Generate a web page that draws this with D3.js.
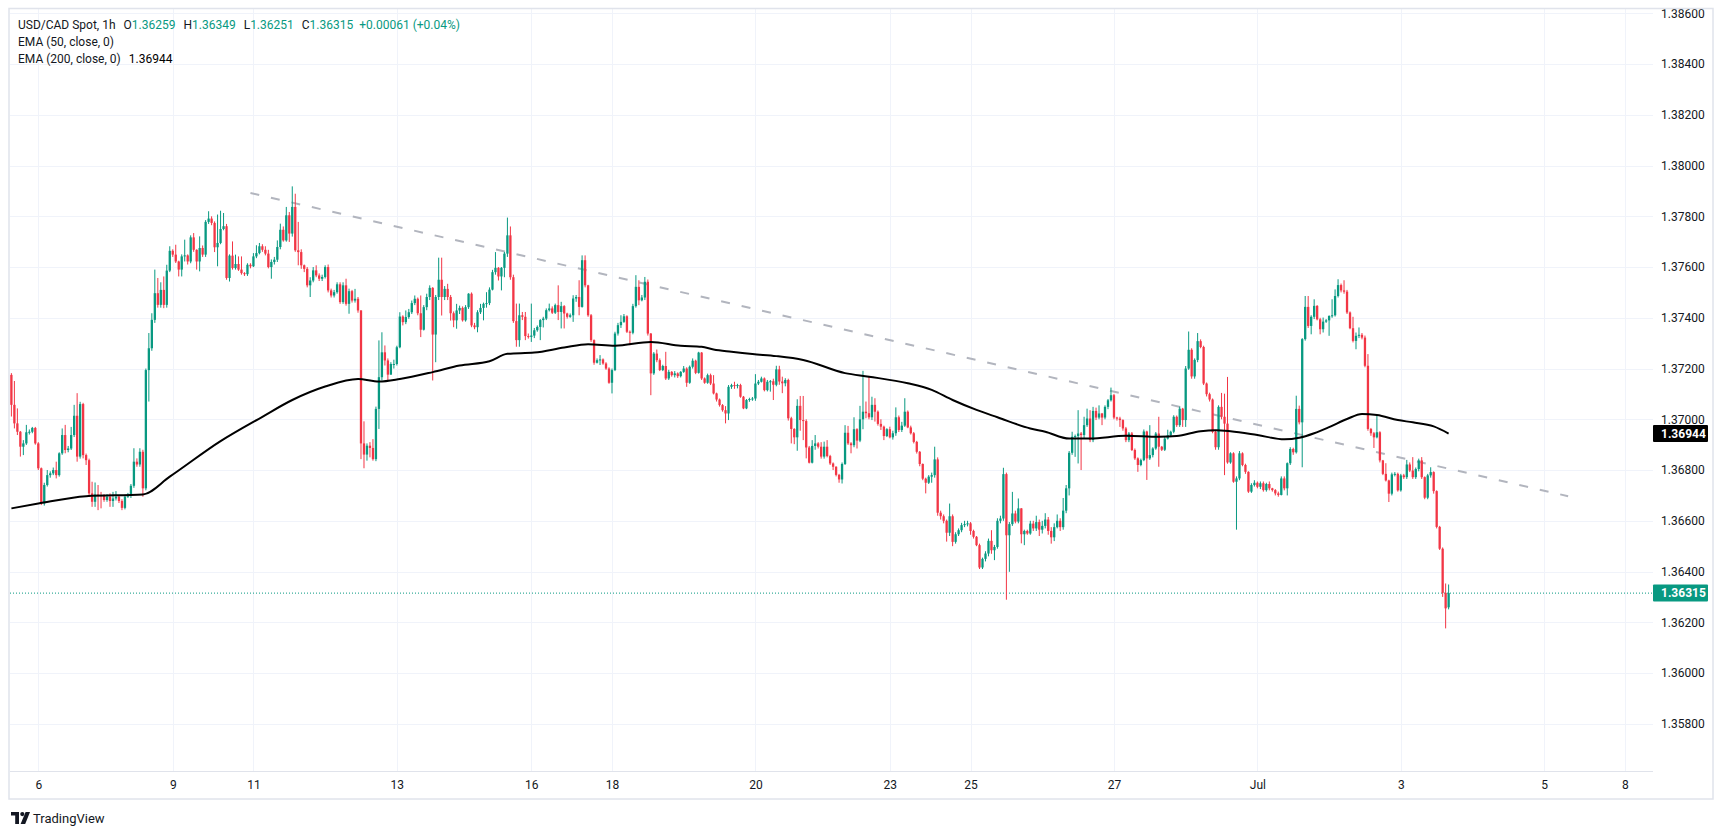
<!DOCTYPE html>
<html><head><meta charset="utf-8">
<script src="https://cdn.jsdelivr.net/npm/d3@7"></script>
<style>
html,body{margin:0;padding:0;background:#fff;}
svg{display:block;font-family:Roboto,"Noto Sans",sans-serif;}
</style></head><body>
<svg id="chart" width="1723" height="835"></svg>
<script>
// ---------- DATA (USD/CAD Spot, 1h) ----------
const barOpen = [
1.37175,1.37057,1.36984,1.36951,1.36892,1.36905,1.36949,1.36951,1.36966,1.36905,
1.36807,1.36668,1.36741,1.36780,1.36787,1.36800,1.36780,1.36866,1.36938,1.36879,
1.36885,1.36938,1.37014,1.36853,1.37060,1.36859,1.36839,1.36708,1.36675,1.36704,
1.36701,1.36699,1.36682,1.36695,1.36678,1.36688,1.36695,1.36678,1.36651,1.36695,
1.36699,1.36738,1.36833,1.36822,1.36872,1.36728,1.37194,1.37280,1.37392,1.37497,
1.37451,1.37510,1.37451,1.37586,1.37664,1.37649,1.37622,1.37590,1.37642,1.37646,
1.37622,1.37717,1.37668,1.37622,1.37675,1.37649,1.37778,1.37791,1.37774,1.37678,
1.37695,1.37750,1.37761,1.37557,1.37645,1.37596,1.37612,1.37590,1.37576,1.37572,
1.37609,1.37603,1.37642,1.37655,1.37682,1.37668,1.37653,1.37600,1.37620,1.37629,
1.37679,1.37747,1.37705,1.37804,1.37732,1.37837,1.37666,1.37659,1.37607,1.37593,
1.37528,1.37547,1.37587,1.37567,1.37554,1.37561,1.37600,1.37508,1.37488,1.37501,
1.37532,1.37462,1.37528,1.37455,1.37505,1.37468,1.37475,1.37429,1.36905,1.36861,
1.36896,1.36887,1.36843,1.37041,1.37166,1.37264,1.37232,1.37176,1.37218,1.37218,
1.37284,1.37405,1.37383,1.37403,1.37422,1.37458,1.37475,1.37418,1.37353,1.37442,
1.37482,1.37518,1.37334,1.37482,1.37550,1.37482,1.37514,1.37482,1.37418,1.37390,
1.37429,1.37439,1.37390,1.37442,1.37495,1.37370,1.37363,1.37422,1.37439,1.37455,
1.37458,1.37511,1.37580,1.37597,1.37563,1.37597,1.37653,1.37725,1.37560,1.37387,
1.37312,1.37410,1.37404,1.37328,1.37325,1.37330,1.37351,1.37364,1.37391,1.37397,
1.37430,1.37437,1.37420,1.37450,1.37423,1.37446,1.37417,1.37404,1.37410,1.37476,
1.37482,1.37443,1.37627,1.37528,1.37410,1.37312,1.37223,1.37233,1.37236,1.37220,
1.37200,1.37144,1.37194,1.37338,1.37371,1.37384,1.37406,1.37345,1.37341,1.37446,
1.37522,1.37469,1.37480,1.37542,1.37338,1.37181,1.37259,1.37233,1.37194,1.37210,
1.37161,1.37187,1.37174,1.37181,1.37170,1.37187,1.37200,1.37144,1.37207,1.37231,
1.37183,1.37263,1.37161,1.37144,1.37174,1.37141,1.37102,1.37078,1.37056,1.37036,
1.37023,1.37128,1.37135,1.37131,1.37135,1.37089,1.37043,1.37076,1.37080,1.37082,
1.37141,1.37148,1.37161,1.37115,1.37148,1.37150,1.37136,1.37197,1.37149,1.37142,
1.37155,1.37004,1.36962,1.36929,1.37053,1.36997,1.36993,1.36889,1.36829,1.36895,
1.36905,1.36892,1.36853,1.36892,1.36855,1.36826,1.36813,1.36781,1.36763,1.36824,
1.36947,1.36905,1.36898,1.36961,1.36916,1.37000,1.37030,1.37024,1.37008,1.37057,
1.37030,1.36982,1.36971,1.36934,1.36961,1.36929,1.36945,1.37008,1.36958,1.36975,
1.37030,1.36968,1.36945,1.36911,1.36872,1.36824,1.36766,1.36750,1.36774,1.36780,
1.36842,1.36632,1.36618,1.36600,1.36553,1.36618,1.36517,1.36547,1.36563,1.36583,
1.36587,1.36590,1.36560,1.36537,1.36504,1.36416,1.36450,1.36471,1.36521,1.36484,
1.36497,1.36600,1.36609,1.36784,1.36543,1.36587,1.36629,1.36597,1.36649,1.36547,
1.36560,1.36550,1.36589,1.36570,1.36595,1.36565,1.36580,1.36605,1.36560,1.36535,
1.36575,1.36600,1.36575,1.36640,1.36728,1.36868,1.36931,1.36934,1.36944,1.36938,
1.36977,1.37003,1.36918,1.37033,1.37007,1.37023,1.37007,1.37049,1.37075,1.37095,
1.37007,1.37003,1.36997,1.36964,1.36918,1.36944,1.36879,1.36846,1.36820,1.36839,
1.36952,1.36846,1.36859,1.36885,1.36944,1.36892,1.36880,1.36924,1.36937,1.36951,
1.37010,1.36977,1.37042,1.36997,1.37200,1.37274,1.37169,1.37234,1.37308,1.37285,
1.37141,1.37099,1.37078,1.36951,1.36890,1.37049,1.37010,1.36983,1.36830,1.36866,
1.36754,1.36767,1.36866,1.36820,1.36793,1.36715,1.36741,1.36750,1.36734,1.36748,
1.36721,1.36745,1.36728,1.36721,1.36708,1.36702,1.36767,1.36728,1.36827,1.36883,
1.36870,1.37041,1.36988,1.37316,1.37443,1.37368,1.37404,1.37447,1.37394,1.37355,
1.37385,1.37390,1.37407,1.37410,1.37486,1.37529,1.37508,1.37503,1.37421,1.37359,
1.37309,1.37329,1.37333,1.37322,1.37211,1.36962,1.36945,1.36929,1.36949,1.36838,
1.36785,1.36759,1.36707,1.36783,1.36785,1.36720,1.36779,1.36772,1.36822,1.36798,
1.36772,1.36804,1.36838,1.36772,1.36691,1.36779,1.36792,1.36717,1.36576,1.36490,
1.36316,1.36259];
const barHigh = [
1.37182,1.37151,1.37043,1.36954,1.36918,1.36978,1.36960,1.36970,1.36970,1.36910,
1.36810,1.36750,1.36800,1.36795,1.36810,1.36833,1.36870,1.36964,1.36978,1.36895,
1.36970,1.37057,1.37103,1.37069,1.37065,1.36865,1.36845,1.36754,1.36751,1.36741,
1.36714,1.36705,1.36705,1.36708,1.36714,1.36717,1.36700,1.36685,1.36700,1.36710,
1.36745,1.36886,1.36846,1.36886,1.36880,1.37200,1.37340,1.37418,1.37590,1.37557,
1.37540,1.37563,1.37609,1.37682,1.37670,1.37688,1.37625,1.37650,1.37708,1.37650,
1.37725,1.37734,1.37670,1.37721,1.37685,1.37785,1.37820,1.37800,1.37780,1.37807,
1.37822,1.37813,1.37770,1.37650,1.37701,1.37649,1.37642,1.37642,1.37580,1.37615,
1.37615,1.37655,1.37686,1.37695,1.37690,1.37682,1.37668,1.37630,1.37640,1.37705,
1.37771,1.37760,1.37837,1.37817,1.37918,1.37889,1.37778,1.37670,1.37610,1.37600,
1.37560,1.37600,1.37607,1.37575,1.37570,1.37607,1.37610,1.37515,1.37510,1.37540,
1.37540,1.37540,1.37554,1.37515,1.37510,1.37514,1.37482,1.37430,1.36992,1.36905,
1.36910,1.36922,1.37050,1.37311,1.37343,1.37291,1.37240,1.37225,1.37235,1.37290,
1.37422,1.37410,1.37429,1.37435,1.37468,1.37488,1.37480,1.37488,1.37450,1.37495,
1.37528,1.37521,1.37490,1.37637,1.37637,1.37525,1.37534,1.37490,1.37425,1.37455,
1.37448,1.37445,1.37450,1.37497,1.37500,1.37380,1.37430,1.37455,1.37460,1.37501,
1.37520,1.37589,1.37659,1.37600,1.37600,1.37660,1.37795,1.37760,1.37570,1.37456,
1.37456,1.37423,1.37423,1.37338,1.37456,1.37360,1.37370,1.37395,1.37404,1.37437,
1.37456,1.37445,1.37456,1.37528,1.37463,1.37450,1.37420,1.37417,1.37489,1.37490,
1.37548,1.37646,1.37646,1.37530,1.37415,1.37315,1.37240,1.37253,1.37240,1.37225,
1.37205,1.37200,1.37345,1.37380,1.37410,1.37415,1.37410,1.37350,1.37455,1.37568,
1.37548,1.37490,1.37561,1.37551,1.37340,1.37265,1.37275,1.37240,1.37215,1.37266,
1.37195,1.37190,1.37190,1.37185,1.37190,1.37210,1.37205,1.37212,1.37240,1.37235,
1.37266,1.37265,1.37165,1.37180,1.37180,1.37174,1.37105,1.37082,1.37060,1.37052,
1.37135,1.37140,1.37148,1.37140,1.37140,1.37092,1.37080,1.37085,1.37088,1.37178,
1.37155,1.37168,1.37165,1.37155,1.37155,1.37160,1.37211,1.37211,1.37168,1.37162,
1.37160,1.37010,1.36965,1.37079,1.37092,1.37092,1.37000,1.36895,1.36918,1.36938,
1.36910,1.36910,1.36912,1.36918,1.36860,1.36830,1.36815,1.36785,1.36830,1.36977,
1.36974,1.36910,1.37008,1.36965,1.37053,1.37191,1.37070,1.37171,1.37089,1.37083,
1.37035,1.37000,1.36975,1.36965,1.36971,1.36955,1.37047,1.37015,1.36990,1.37083,
1.37035,1.36975,1.36950,1.36915,1.36875,1.36826,1.36770,1.36780,1.36790,1.36892,
1.36850,1.36640,1.36625,1.36605,1.36668,1.36625,1.36555,1.36570,1.36592,1.36600,
1.36600,1.36595,1.36565,1.36540,1.36510,1.36455,1.36480,1.36530,1.36563,1.36505,
1.36610,1.36620,1.36809,1.36790,1.36595,1.36714,1.36640,1.36688,1.36650,1.36565,
1.36565,1.36600,1.36600,1.36620,1.36605,1.36600,1.36630,1.36615,1.36575,1.36590,
1.36625,1.36610,1.36690,1.36741,1.36875,1.36951,1.36940,1.37036,1.36950,1.37010,
1.37042,1.37036,1.37049,1.37046,1.37055,1.37025,1.37055,1.37080,1.37125,1.37100,
1.37010,1.37010,1.37000,1.36970,1.36950,1.36950,1.36885,1.36850,1.36845,1.36960,
1.36955,1.36977,1.36890,1.36950,1.37010,1.36895,1.36930,1.36959,1.36955,1.37016,
1.37015,1.37050,1.37045,1.37210,1.37346,1.37280,1.37240,1.37340,1.37315,1.37290,
1.37145,1.37105,1.37082,1.36955,1.37055,1.37104,1.37101,1.37167,1.36870,1.36870,
1.36775,1.36875,1.36870,1.36825,1.36795,1.36748,1.36760,1.36755,1.36755,1.36755,
1.36750,1.36755,1.36730,1.36725,1.36715,1.36775,1.36775,1.36830,1.36890,1.36888,
1.37093,1.37054,1.37320,1.37486,1.37486,1.37410,1.37473,1.37450,1.37400,1.37401,
1.37395,1.37410,1.37473,1.37512,1.37552,1.37535,1.37548,1.37510,1.37425,1.37404,
1.37342,1.37362,1.37340,1.37330,1.37257,1.36966,1.36950,1.37014,1.36953,1.36840,
1.36827,1.36762,1.36790,1.36792,1.36790,1.36785,1.36785,1.36840,1.36830,1.36851,
1.36810,1.36845,1.36851,1.36775,1.36785,1.36811,1.36795,1.36720,1.36580,1.36495,
1.36353,1.36349];
const barLow = [
1.37011,1.36964,1.36938,1.36853,1.36859,1.36899,1.36940,1.36945,1.36900,1.36800,
1.36662,1.36660,1.36735,1.36770,1.36780,1.36767,1.36774,1.36860,1.36866,1.36870,
1.36879,1.36930,1.36833,1.36845,1.36846,1.36820,1.36695,1.36655,1.36655,1.36642,
1.36649,1.36675,1.36675,1.36655,1.36655,1.36680,1.36670,1.36642,1.36645,1.36690,
1.36690,1.36730,1.36813,1.36813,1.36695,1.36720,1.37070,1.37270,1.37380,1.37440,
1.37440,1.37438,1.37440,1.37580,1.37640,1.37616,1.37563,1.37563,1.37622,1.37610,
1.37615,1.37660,1.37590,1.37583,1.37640,1.37640,1.37770,1.37765,1.37659,1.37603,
1.37690,1.37745,1.37550,1.37543,1.37590,1.37590,1.37585,1.37570,1.37565,1.37565,
1.37595,1.37600,1.37635,1.37650,1.37660,1.37646,1.37595,1.37554,1.37610,1.37620,
1.37670,1.37700,1.37700,1.37699,1.37720,1.37660,1.37607,1.37593,1.37580,1.37520,
1.37482,1.37540,1.37560,1.37545,1.37545,1.37555,1.37500,1.37480,1.37480,1.37495,
1.37455,1.37455,1.37448,1.37416,1.37460,1.37460,1.37420,1.36843,1.36807,1.36837,
1.36850,1.36837,1.36835,1.36962,1.37153,1.37212,1.37153,1.37176,1.37200,1.37212,
1.37280,1.37370,1.37375,1.37396,1.37415,1.37450,1.37410,1.37324,1.37350,1.37430,
1.37470,1.37153,1.37225,1.37470,1.37409,1.37470,1.37470,1.37389,1.37363,1.37357,
1.37415,1.37385,1.37385,1.37435,1.37363,1.37355,1.37343,1.37415,1.37390,1.37440,
1.37450,1.37508,1.37570,1.37547,1.37508,1.37560,1.37640,1.37550,1.37380,1.37286,
1.37286,1.37391,1.37312,1.37318,1.37305,1.37320,1.37345,1.37312,1.37362,1.37391,
1.37425,1.37415,1.37415,1.37391,1.37358,1.37358,1.37397,1.37400,1.37384,1.37463,
1.37410,1.37440,1.37520,1.37404,1.37305,1.37215,1.37220,1.37214,1.37215,1.37195,
1.37140,1.37102,1.37190,1.37330,1.37360,1.37380,1.37340,1.37292,1.37335,1.37440,
1.37450,1.37465,1.37470,1.37330,1.37095,1.37175,1.37225,1.37190,1.37190,1.37155,
1.37155,1.37168,1.37165,1.37163,1.37165,1.37183,1.37128,1.37140,1.37200,1.37178,
1.37180,1.37155,1.37140,1.37140,1.37135,1.37098,1.37070,1.37050,1.37030,1.36984,
1.36997,1.37120,1.37120,1.37122,1.37085,1.37040,1.37040,1.37069,1.37073,1.37073,
1.37135,1.37145,1.37110,1.37110,1.37109,1.37076,1.37130,1.37136,1.37103,1.37130,
1.36995,1.36905,1.36902,1.36876,1.36955,1.36918,1.36846,1.36826,1.36826,1.36880,
1.36885,1.36845,1.36845,1.36850,1.36820,1.36800,1.36775,1.36750,1.36747,1.36820,
1.36899,1.36866,1.36890,1.36885,1.36910,1.36961,1.37004,1.37000,1.36997,1.36991,
1.36975,1.36958,1.36918,1.36930,1.36925,1.36920,1.36935,1.36950,1.36950,1.36970,
1.36965,1.36940,1.36905,1.36865,1.36815,1.36760,1.36708,1.36745,1.36750,1.36770,
1.36620,1.36605,1.36590,1.36518,1.36540,1.36500,1.36510,1.36540,1.36555,1.36575,
1.36578,1.36545,1.36530,1.36500,1.36410,1.36410,1.36440,1.36460,1.36470,1.36445,
1.36490,1.36590,1.36600,1.36289,1.36399,1.36580,1.36590,1.36590,1.36511,1.36504,
1.36545,1.36545,1.36560,1.36560,1.36540,1.36550,1.36570,1.36545,1.36510,1.36520,
1.36570,1.36560,1.36565,1.36630,1.36700,1.36860,1.36852,1.36826,1.36800,1.36924,
1.36970,1.36910,1.36910,1.36997,1.37000,1.36977,1.37000,1.37040,1.37070,1.37000,
1.36995,1.36970,1.36955,1.36910,1.36910,1.36875,1.36840,1.36793,1.36815,1.36835,
1.36761,1.36840,1.36850,1.36880,1.36813,1.36875,1.36875,1.36920,1.36930,1.36945,
1.36970,1.36970,1.36970,1.36970,1.37195,1.37160,1.37160,1.37225,1.37280,1.37135,
1.37090,1.37070,1.36945,1.36880,1.36880,1.37000,1.36780,1.36825,1.36825,1.36750,
1.36565,1.36760,1.36815,1.36785,1.36710,1.36710,1.36735,1.36728,1.36725,1.36715,
1.36715,1.36720,1.36715,1.36700,1.36695,1.36700,1.36720,1.36700,1.36820,1.36860,
1.36865,1.36980,1.36811,1.37310,1.37360,1.37335,1.37395,1.37390,1.37335,1.37342,
1.37380,1.37329,1.37400,1.37405,1.37480,1.37500,1.37495,1.37415,1.37355,1.37303,
1.37276,1.37320,1.37315,1.37205,1.36955,1.36935,1.36887,1.36925,1.36830,1.36780,
1.36755,1.36674,1.36700,1.36775,1.36715,1.36715,1.36765,1.36765,1.36792,1.36765,
1.36765,1.36795,1.36765,1.36685,1.36685,1.36770,1.36707,1.36570,1.36485,1.36300,
1.36176,1.36251];
const barClose = [
1.37057,1.36984,1.36951,1.36892,1.36905,1.36949,1.36951,1.36966,1.36905,1.36807,
1.36668,1.36741,1.36780,1.36787,1.36800,1.36780,1.36866,1.36938,1.36879,1.36885,
1.36938,1.37014,1.36853,1.37060,1.36859,1.36839,1.36708,1.36675,1.36704,1.36701,
1.36699,1.36682,1.36695,1.36678,1.36688,1.36695,1.36678,1.36651,1.36695,1.36699,
1.36738,1.36833,1.36822,1.36872,1.36728,1.37194,1.37280,1.37392,1.37497,1.37451,
1.37510,1.37451,1.37586,1.37664,1.37649,1.37622,1.37590,1.37642,1.37646,1.37622,
1.37717,1.37668,1.37622,1.37675,1.37649,1.37778,1.37791,1.37774,1.37678,1.37695,
1.37750,1.37761,1.37557,1.37645,1.37596,1.37612,1.37590,1.37576,1.37572,1.37609,
1.37603,1.37642,1.37655,1.37682,1.37668,1.37653,1.37600,1.37620,1.37629,1.37679,
1.37747,1.37705,1.37804,1.37732,1.37837,1.37666,1.37659,1.37607,1.37593,1.37528,
1.37547,1.37587,1.37567,1.37554,1.37561,1.37600,1.37508,1.37488,1.37501,1.37532,
1.37462,1.37528,1.37455,1.37505,1.37468,1.37475,1.37429,1.36905,1.36861,1.36896,
1.36887,1.36843,1.37041,1.37166,1.37264,1.37232,1.37176,1.37218,1.37218,1.37284,
1.37405,1.37383,1.37403,1.37422,1.37458,1.37475,1.37418,1.37353,1.37442,1.37482,
1.37518,1.37334,1.37482,1.37550,1.37482,1.37514,1.37482,1.37418,1.37390,1.37429,
1.37439,1.37390,1.37442,1.37495,1.37370,1.37363,1.37422,1.37439,1.37455,1.37458,
1.37511,1.37580,1.37597,1.37563,1.37597,1.37653,1.37725,1.37560,1.37387,1.37312,
1.37410,1.37404,1.37328,1.37325,1.37330,1.37351,1.37364,1.37391,1.37397,1.37430,
1.37437,1.37420,1.37450,1.37423,1.37446,1.37417,1.37404,1.37410,1.37476,1.37482,
1.37443,1.37627,1.37528,1.37410,1.37312,1.37223,1.37233,1.37236,1.37220,1.37200,
1.37144,1.37194,1.37338,1.37371,1.37384,1.37406,1.37345,1.37341,1.37446,1.37522,
1.37469,1.37480,1.37542,1.37338,1.37181,1.37259,1.37233,1.37194,1.37210,1.37161,
1.37187,1.37174,1.37181,1.37170,1.37187,1.37200,1.37144,1.37207,1.37231,1.37183,
1.37263,1.37161,1.37144,1.37174,1.37141,1.37102,1.37078,1.37056,1.37036,1.37023,
1.37128,1.37135,1.37131,1.37135,1.37089,1.37043,1.37076,1.37080,1.37082,1.37141,
1.37148,1.37161,1.37115,1.37148,1.37150,1.37136,1.37197,1.37149,1.37142,1.37155,
1.37004,1.36962,1.36929,1.37053,1.36997,1.36993,1.36889,1.36829,1.36895,1.36905,
1.36892,1.36853,1.36892,1.36855,1.36826,1.36813,1.36781,1.36763,1.36824,1.36947,
1.36905,1.36898,1.36961,1.36916,1.37000,1.37030,1.37024,1.37008,1.37057,1.37030,
1.36982,1.36971,1.36934,1.36961,1.36929,1.36945,1.37008,1.36958,1.36975,1.37030,
1.36968,1.36945,1.36911,1.36872,1.36824,1.36766,1.36750,1.36774,1.36780,1.36842,
1.36632,1.36618,1.36600,1.36553,1.36618,1.36517,1.36547,1.36563,1.36583,1.36587,
1.36590,1.36560,1.36537,1.36504,1.36416,1.36450,1.36471,1.36521,1.36484,1.36497,
1.36600,1.36609,1.36784,1.36543,1.36587,1.36629,1.36597,1.36649,1.36547,1.36560,
1.36550,1.36589,1.36570,1.36595,1.36565,1.36580,1.36605,1.36560,1.36535,1.36575,
1.36600,1.36575,1.36640,1.36728,1.36868,1.36931,1.36934,1.36944,1.36938,1.36977,
1.37003,1.36918,1.37033,1.37007,1.37023,1.37007,1.37049,1.37075,1.37095,1.37007,
1.37003,1.36997,1.36964,1.36918,1.36944,1.36879,1.36846,1.36820,1.36839,1.36952,
1.36846,1.36859,1.36885,1.36944,1.36892,1.36880,1.36924,1.36937,1.36951,1.37010,
1.36977,1.37042,1.36997,1.37200,1.37274,1.37169,1.37234,1.37308,1.37285,1.37141,
1.37099,1.37078,1.36951,1.36890,1.37049,1.37010,1.36983,1.36830,1.36866,1.36754,
1.36767,1.36866,1.36820,1.36793,1.36715,1.36741,1.36750,1.36734,1.36748,1.36721,
1.36745,1.36728,1.36721,1.36708,1.36702,1.36767,1.36728,1.36827,1.36883,1.36870,
1.37041,1.36988,1.37316,1.37443,1.37368,1.37404,1.37447,1.37394,1.37355,1.37385,
1.37390,1.37407,1.37410,1.37486,1.37529,1.37508,1.37503,1.37421,1.37359,1.37309,
1.37329,1.37333,1.37322,1.37211,1.36962,1.36945,1.36929,1.36949,1.36838,1.36785,
1.36759,1.36707,1.36783,1.36785,1.36720,1.36779,1.36772,1.36822,1.36798,1.36772,
1.36804,1.36838,1.36772,1.36691,1.36779,1.36792,1.36717,1.36576,1.36490,1.36316,
1.36255,1.36315];

// EMA 200 at sample bars
const emaIndex = [0,9,25,44,53,70,84,94,105,116,123,130,141,150,160,166,175,185,193,202,
214,224,231,235,241,248,256,265,279,287,300,308,315,323,330,341,346,354,361,373,
384,390,398,403,408,417,426,431,436,441,447,452,457,464,469,476,481];
const emaValue = [1.36649,1.36668,1.36697,1.36704,1.36774,1.36914,1.37010,1.37076,1.37129,1.37159,
1.37149,1.37159,1.37186,1.37212,1.37229,1.37258,1.37263,1.37283,1.37296,1.37290,
1.37305,1.37290,1.37286,1.37275,1.37266,1.37257,1.37249,1.37234,1.37182,1.37168,
1.37142,1.37116,1.37076,1.37037,1.37008,1.36964,1.36951,1.36924,1.36924,1.36935,
1.36931,1.36934,1.36953,1.36957,1.36953,1.36938,1.36921,1.36927,1.36945,1.36969,
1.37001,1.37021,1.37017,1.36997,1.36988,1.36972,1.36944];

// Descending trendline (bar index, price)
const trendIndex = [80, 521];
const trendValue = [1.37892, 1.36697];

// Axis ticks
const timeTickIndex = [9,54,81,129,174,201,249,294,321,369,417,465,513,540];
const timeTickLabels = ["6","9","11","13","16","18","20","23","25","27","Jul","3","5","8"];
const priceTicks = [1.358,1.360,1.362,1.364,1.366,1.368,1.370,1.372,1.374,1.376,1.378,1.380,1.382,1.384,1.386];

// Legend values
const symbolTitle = "USD/CAD Spot, 1h";
const ohlcLabels = ["O","H","L","C"];
const ohlcValues = ["1.36259","1.36349","1.36251","1.36315"];
const changeText = "+0.00061 (+0.04%)";
const indicatorNames = ["EMA (50, close, 0)","EMA (200, close, 0)"];
const lastPrice = 1.36315;
const emaLast = 1.36944;

// ---------- DRAW ----------
const UP = "#089981", DOWN = "#f23645", TXT = "#131722";
const svg = d3.select("#chart");
const plot = {left:10, right:1653, top:9, bottom:771};

const x = d3.scaleLinear().domain([-0.47, 549.4]).range([plot.left, plot.right]);
const y = d3.scaleLinear().domain([1.35614, 1.38617]).range([plot.bottom, plot.top]);

svg.append("rect").attr("x",0).attr("y",0).attr("width",1723).attr("height",835).attr("fill","#fff");

const defs = svg.append("defs");
defs.append("clipPath").attr("id","plotClip").append("rect")
  .attr("x",plot.left).attr("y",plot.top).attr("width",plot.right-plot.left).attr("height",plot.bottom-plot.top);
defs.append("clipPath").attr("id","axisClip").append("rect")
  .attr("x",plot.right).attr("y",plot.top).attr("width",60).attr("height",plot.bottom-plot.top);

// grid
const grid = svg.append("g").attr("clip-path","url(#plotClip)");
grid.selectAll(".hg").data(priceTicks).join("line")
  .attr("x1",plot.left).attr("x2",plot.right)
  .attr("y1",d=>Math.round(y(d))+0.5).attr("y2",d=>Math.round(y(d))+0.5)
  .attr("stroke","#f0f3fa").attr("stroke-width",1);
grid.selectAll(".vg").data(timeTickIndex).join("line")
  .attr("x1",d=>Math.round(x(d))+0.5).attr("x2",d=>Math.round(x(d))+0.5)
  .attr("y1",plot.top).attr("y2",plot.bottom)
  .attr("stroke","#f0f3fa").attr("stroke-width",1);

const chartG = svg.append("g").attr("clip-path","url(#plotClip)");

// last price dotted line
chartG.append("line")
  .attr("x1",plot.left).attr("x2",plot.right)
  .attr("y1",y(lastPrice)).attr("y2",y(lastPrice))
  .attr("stroke",UP).attr("stroke-width",1).attr("stroke-dasharray","1,2");

// trendline
chartG.append("path")
  .datum(d3.range(trendIndex.length))
  .attr("d", d3.line().x(i=>x(trendIndex[i])).y(i=>y(trendValue[i])))
  .attr("fill","none").attr("stroke","#b2b5be").attr("stroke-width",2)
  .attr("stroke-dasharray","9,12");

// candles
const idx = d3.range(barClose.length);
const candles = chartG.append("g");
candles.selectAll(".wick").data(idx).join("line")
  .attr("x1",i=>x(i)).attr("x2",i=>x(i))
  .attr("y1",i=>y(barHigh[i])).attr("y2",i=>y(barLow[i]))
  .attr("stroke",i=>barClose[i]>=barOpen[i]?UP:DOWN).attr("stroke-width",1);
candles.selectAll(".body").data(idx).join("rect")
  .attr("x",i=>x(i)-1.15).attr("width",2.3)
  .attr("y",i=>y(Math.max(barOpen[i],barClose[i])))
  .attr("height",i=>Math.max(1,Math.abs(y(barOpen[i])-y(barClose[i]))))
  .attr("fill",i=>barClose[i]>=barOpen[i]?UP:DOWN);

// EMA 200
chartG.append("path")
  .datum(d3.range(emaIndex.length))
  .attr("d", d3.line().x(i=>x(emaIndex[i])).y(i=>y(emaValue[i])).curve(d3.curveMonotoneX))
  .attr("fill","none").attr("stroke","#000").attr("stroke-width",2);

// time axis
svg.append("line").attr("x1",plot.left).attr("x2",plot.right)
  .attr("y1",plot.bottom+0.5).attr("y2",plot.bottom+0.5).attr("stroke","#e0e3eb");
const xAxis = d3.axisBottom(x).tickValues(timeTickIndex)
  .tickFormat((d,i)=>timeTickLabels[i]).tickSize(0).tickPadding(9);
const xg = svg.append("g").attr("transform",`translate(0,${plot.bottom})`).call(xAxis);
xg.select(".domain").remove();
xg.selectAll("text").attr("fill",TXT).style("font-size","12px").style("font-family","Roboto,sans-serif");

// price axis
const yAxis = d3.axisRight(y).tickValues(priceTicks).tickFormat(d3.format(".5f")).tickSize(0).tickPadding(8);
const yg = svg.append("g").attr("clip-path","url(#axisClip)")
  .append("g").attr("transform",`translate(${plot.right},0)`).call(yAxis);
yg.select(".domain").remove();
yg.selectAll("text").attr("fill",TXT).style("font-size","12px").style("font-family","Roboto,sans-serif");

// price labels (EMA + last)
function priceTag(v, bg){
  const g = svg.append("g");
  g.append("rect").attr("x",plot.right).attr("y",y(v)-8.5).attr("width",55).attr("height",17)
    .attr("fill",bg).attr("rx",1);
  g.append("text").attr("x",plot.right+8).attr("y",y(v)).attr("dy","0.35em")
    .attr("fill","#fff").style("font-size","12px").style("font-weight","700")
    .text(d3.format(".5f")(v));
}
priceTag(emaLast, "#000");
priceTag(lastPrice, UP);

// frame
svg.append("rect").attr("x",9).attr("y",8.5).attr("width",1704).attr("height",790.5)
  .attr("fill","none").attr("stroke","#e0e3eb").attr("stroke-width",1.5);

// legend
const lg = svg.append("g").style("font-size","12px");
const l1 = lg.append("text").attr("x",18).attr("y",29).attr("fill",TXT);
l1.append("tspan").text(symbolTitle);
ohlcLabels.forEach((lab,k)=>{
  l1.append("tspan").attr("dx",8).attr("fill",TXT).text(lab);
  l1.append("tspan").attr("fill",UP).text(ohlcValues[k]);
});
l1.append("tspan").attr("dx",6).attr("fill",UP).text(changeText);
lg.append("text").attr("x",18).attr("y",46).attr("fill",TXT).text(indicatorNames[0]);
const l3 = lg.append("text").attr("x",18).attr("y",63).attr("fill",TXT);
l3.append("tspan").text(indicatorNames[1]);
l3.append("tspan").attr("dx",8).attr("fill","#000").text(d3.format(".5f")(emaLast));

// TradingView logo
const logo = svg.append("g").attr("transform","translate(11,812)").attr("fill",TXT);
logo.append("path").attr("d","M0,0 H8 V12 H4.2 V3.6 H0 Z");
logo.append("circle").attr("cx",11.3).attr("cy",2.1).attr("r",2.1);
logo.append("path").attr("d","M14.6,0 H19 L14.2,12 H9.6 Z");
svg.append("text").attr("x",33).attr("y",823).attr("fill",TXT)
  .style("font-size","13px").text("TradingView");
</script>
</body></html>
